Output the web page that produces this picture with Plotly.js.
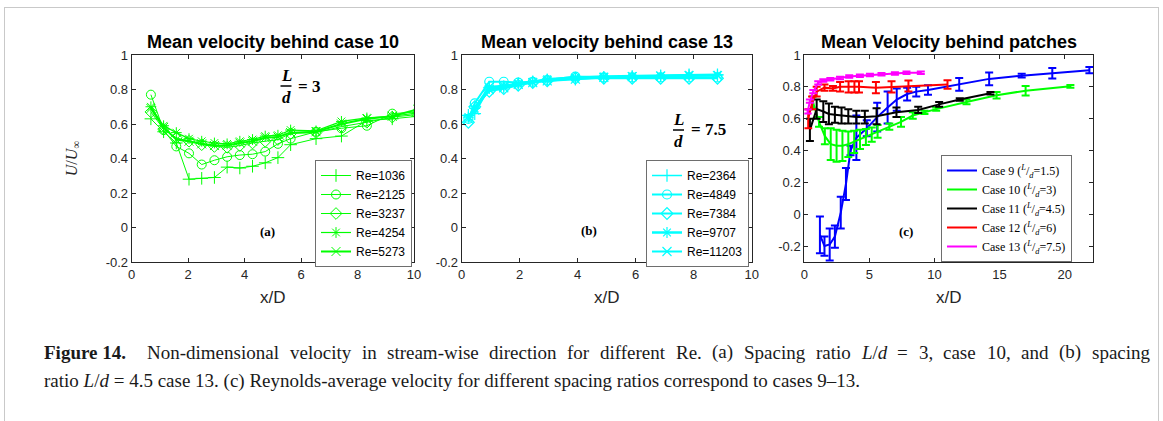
<!DOCTYPE html>
<html>
<head>
<meta charset="utf-8">
<script src="https://cdn.plot.ly/plotly-3.0.1.min.js"></script>
<style>
  html, body { margin: 0; padding: 0; background: #ffffff; }
  #wrap { position: relative; width: 1163px; height: 421px; overflow: hidden; }
  #chart { width: 1163px; height: 421px; }
  #frame { position: absolute; left: 4px; top: 7px; width: 1153px; height: 440px;
           border: 1px solid #c9c9c9; pointer-events: none; }
</style>
</head>
<body>
<div id="wrap"><div id="chart"></div><div id="frame"></div></div>
<script>
// ---------------- data ----------------
// Panel (a): case 10, x/D positions and U/U_inf for several Re
const xA = [0.68, 1.13, 1.58, 2.03, 2.48, 2.93, 3.38, 3.83, 4.28, 4.73, 5.18, 5.63, 6.53, 7.43, 8.33, 9.23, 10.13];
const reA = ['Re=1036', 'Re=2125', 'Re=3237', 'Re=4254', 'Re=5273'];
const uA1036 = [0.63, 0.555, 0.49, 0.28, 0.285, 0.29, 0.35, 0.345, 0.355, 0.375, 0.405, 0.48, 0.515, 0.53, 0.62, 0.63, 0.645];
const uA2125 = [0.77, 0.565, 0.47, 0.43, 0.365, 0.39, 0.41, 0.42, 0.425, 0.44, 0.485, 0.515, 0.555, 0.575, 0.59, 0.66, 0.67];
const uA3237 = [0.67, 0.57, 0.52, 0.50, 0.48, 0.47, 0.465, 0.475, 0.49, 0.50, 0.51, 0.545, 0.55, 0.585, 0.61, 0.64, 0.655];
const uA4254 = [0.70, 0.59, 0.55, 0.515, 0.50, 0.49, 0.485, 0.50, 0.51, 0.53, 0.535, 0.565, 0.56, 0.615, 0.635, 0.645, 0.665];
const uA5273 = [0.69, 0.58, 0.51, 0.50, 0.485, 0.475, 0.475, 0.49, 0.50, 0.52, 0.525, 0.55, 0.555, 0.60, 0.63, 0.645, 0.685];

// Panel (b): case 13
const xB = [0.23, 0.45, 0.95, 1.45, 1.95, 2.45, 2.95, 3.92, 4.90, 5.88, 6.86, 7.84, 8.82];
const reB = ['Re=2364', 'Re=4849', 'Re=7384', 'Re=9707', 'Re=11203'];
const uB2364 = [0.65, 0.66, 0.81, 0.815, 0.835, 0.845, 0.855, 0.86, 0.87, 0.875, 0.88, 0.885, 0.885];
const uB4849 = [0.63, 0.72, 0.845, 0.845, 0.84, 0.845, 0.855, 0.875, 0.87, 0.87, 0.87, 0.87, 0.87];
const uB7384 = [0.61, 0.70, 0.79, 0.805, 0.825, 0.84, 0.85, 0.865, 0.865, 0.865, 0.865, 0.865, 0.865];
const uB9707 = [0.64, 0.69, 0.815, 0.82, 0.835, 0.845, 0.86, 0.87, 0.875, 0.878, 0.88, 0.885, 0.885];
const uB11203 = [0.63, 0.68, 0.80, 0.81, 0.83, 0.84, 0.85, 0.86, 0.87, 0.875, 0.878, 0.88, 0.88];

// Panel (c): Reynolds-averaged velocity behind patches, with error bars
const caseNames = ['Case 9 (<sup><i>L</i></sup>/<sub><i>d</i></sub>=1.5)', 'Case 10 (<sup><i>L</i></sup>/<sub><i>d</i></sub>=3)',
                   'Case 11 (<sup><i>L</i></sup>/<sub><i>d</i></sub>=4.5)', 'Case 12 (<sup><i>L</i></sup>/<sub><i>d</i></sub>=6)',
                   'Case 13 (<sup><i>L</i></sup>/<sub><i>d</i></sub>=7.5)'];
const xC9 = [1.2, 1.55, 1.95, 2.35, 2.8, 3.2, 3.55, 4.0, 4.8, 5.6, 6.4, 7.1, 7.9, 8.6, 9.5, 11.9, 14.2, 16.7, 19.05, 21.9];
const uC9 = [-0.13, -0.2, -0.19, -0.14, 0.01, 0.19, 0.40, 0.48, 0.54, 0.61, 0.67, 0.72, 0.755, 0.77, 0.78, 0.815, 0.85, 0.87, 0.885, 0.905];
const eC9 = [0.115, 0.06, 0.10, 0.07, 0.10, 0.10, 0.03, 0.14, 0.05, 0.09, 0.10, 0.07, 0.04, 0.03, 0.03, 0.04, 0.04, 0.012, 0.033, 0.02];
const xC10 = [0.68, 1.13, 1.58, 2.03, 2.48, 2.93, 3.38, 3.83, 4.28, 4.73, 5.18, 5.63, 6.53, 7.43, 8.33, 9.23, 10.13, 12.46, 14.77, 17.0, 20.44];
const uC10 = [0.70, 0.58, 0.49, 0.44, 0.43, 0.43, 0.44, 0.455, 0.47, 0.485, 0.50, 0.52, 0.55, 0.58, 0.62, 0.64, 0.66, 0.705, 0.747, 0.776, 0.803];
const eC10 = [0.04, 0.03, 0.05, 0.10, 0.10, 0.095, 0.08, 0.07, 0.06, 0.05, 0.045, 0.04, 0.02, 0.03, 0.02, 0.01, 0.01, 0.015, 0.02, 0.03, 0.008];
const xC11 = [0.43, 0.95, 1.46, 1.89, 2.35, 2.86, 3.38, 4.0, 4.65, 5.55, 7.08, 8.75, 10.36, 11.94, 14.3];
const uC11 = [0.53, 0.66, 0.645, 0.63, 0.625, 0.62, 0.615, 0.61, 0.61, 0.615, 0.64, 0.655, 0.69, 0.72, 0.76];
const eC11 = [0.07, 0.06, 0.065, 0.065, 0.05, 0.05, 0.045, 0.04, 0.04, 0.05, 0.03, 0.02, 0.015, 0.008, 0.008];
const xC12 = [0.3, 0.6, 0.95, 1.55, 2.2, 2.75, 3.4, 3.85, 4.2, 5.5, 6.7, 8.0, 11.0];
const uC12 = [0.60, 0.70, 0.77, 0.795, 0.79, 0.80, 0.80, 0.80, 0.80, 0.795, 0.80, 0.805, 0.815];
const eC12 = [0.06, 0.04, 0.03, 0.02, 0.015, 0.03, 0.035, 0.035, 0.035, 0.035, 0.035, 0.035, 0.027];
const xC13 = [0.26, 0.43, 0.69, 1.07, 1.46, 2.0, 2.74, 3.45, 4.27, 5.04, 5.93, 6.96, 7.85, 8.95];
const uC13 = [0.645, 0.71, 0.77, 0.825, 0.84, 0.848, 0.856, 0.865, 0.87, 0.875, 0.879, 0.884, 0.888, 0.888];
const eC13 = [0.012, 0.01, 0.01, 0.01, 0.008, 0.008, 0.008, 0.008, 0.008, 0.008, 0.008, 0.008, 0.008, 0.008];

// tick labels
const yTickVals = [-0.2, 0, 0.2, 0.4, 0.6, 0.8, 1];
const yTickText = ['-0.2', '0', '0.2', '0.4', '0.6', '0.8', '1'];
const xTickValsAB = [0, 2, 4, 6, 8, 10];
const xTickValsC = [0, 5, 10, 15, 20];

// caption text (line 1 is justified word by word, line 2 is the natural last line)
const captionLine1 = [
  [{s: 'Figure 14.', b: true}],
  [{s: 'Non-dimensional'}], [{s: 'velocity'}], [{s: 'in'}], [{s: 'stream-wise'}], [{s: 'direction'}],
  [{s: 'for'}], [{s: 'different'}], [{s: 'Re.'}], [{s: '(a)'}], [{s: 'Spacing'}], [{s: 'ratio'}],
  [{s: 'L', i: true}, {s: '/'}, {s: 'd', i: true}], [{s: '='}], [{s: '3,'}], [{s: 'case'}], [{s: '10,'}],
  [{s: 'and'}], [{s: '(b)'}], [{s: 'spacing'}]
];
const captionLine2 = 'ratio <i>L</i>/<i>d</i> = 4.5 case 13. (c) Reynolds-average velocity for different spacing ratios correspond to cases 9–13.';

// ---------------- styling ----------------
const W = 1163, H = 421;
const px = v => v / W;
const py = v => 1 - v / H;
const GREEN = '#00ff00', CYAN = '#00ffff';
const symA = ['cross-thin-open', 'circle-open', 'diamond-open', 'asterisk-open', 'x-thin-open'];
const lwA = [1, 1, 1, 1.2, 2];
const lwB = [1.5, 2, 2, 2.5, 2];
const sans = 'Liberation Sans, Arial, sans-serif';
const serif = 'Liberation Serif, Times New Roman, serif';
const CAP_SIZE = 19;

const traces = [];
[uA1036, uA2125, uA3237, uA4254, uA5273].forEach((u, i) => {
  traces.push({x: xA, y: u, name: reA[i], type: 'scatter', mode: 'lines+markers',
    xaxis: 'x', yaxis: 'y', legend: 'legend',
    line: {color: GREEN, width: lwA[i]},
    marker: {symbol: symA[i], size: 9, color: GREEN, line: {color: GREEN, width: 1}}});
});
[uB2364, uB4849, uB7384, uB9707, uB11203].forEach((u, i) => {
  traces.push({x: xB, y: u, name: reB[i], type: 'scatter', mode: 'lines+markers',
    xaxis: 'x2', yaxis: 'y2', legend: 'legend2',
    line: {color: CYAN, width: lwB[i]},
    marker: {symbol: symA[i], size: 9, color: CYAN, line: {color: CYAN, width: 1.2}}});
});
const cX = [xC9, xC10, xC11, xC12, xC13];
const cU = [uC9, uC10, uC11, uC12, uC13];
const cE = [eC9, eC10, eC11, eC12, eC13];
const cCol = ['#0000ff', '#00ff00', '#000000', '#ff0000', '#ff00ff'];
cX.forEach((xx, i) => {
  traces.push({x: xx, y: cU[i], name: caseNames[i], type: 'scatter', mode: 'lines',
    xaxis: 'x3', yaxis: 'y3', legend: 'legend3',
    line: {color: cCol[i], width: 2},
    error_y: {type: 'data', array: cE[i], visible: true, color: cCol[i], thickness: 2, width: 4}});
});

function xax(domain, range, tickvals, anchor) {
  return {domain: domain, range: range, anchor: anchor, tickvals: tickvals,
    ticks: 'inside', ticklen: 4, tickcolor: '#262626', mirror: 'ticks', showline: true,
    linecolor: '#262626', linewidth: 1, showgrid: false, zeroline: false,
    tickfont: {family: sans, size: 13, color: '#262626'},
    title: {text: 'x/D', font: {family: sans, size: 17, color: '#262626'}, standoff: 10}};
}
function yax(domain, range, anchor) {
  return {domain: domain, range: range, anchor: anchor, tickvals: yTickVals, ticktext: yTickText,
    ticks: 'inside', ticklen: 4, tickcolor: '#262626', mirror: 'ticks', showline: true,
    linecolor: '#262626', linewidth: 1, showgrid: false, zeroline: false,
    tickfont: {family: sans, size: 13, color: '#262626'}};
}
const yDom = [py(262), py(55)];
const dA = [px(131.7), px(414)], dB = [px(461.7), px(751.7)], dC = [px(804.3), px(1093.3)];

// ---- caption justification (positions only) ----
const cv = document.createElement('canvas').getContext('2d');
function partWidth(p) {
  cv.font = (p.i ? 'italic ' : '') + (p.b ? 'bold ' : '') + CAP_SIZE + 'px "Liberation Serif"';
  return cv.measureText(p.s).width;
}
function wordHtml(w) {
  return w.map(p => {
    let t = p.s;
    if (p.i) t = '<i>' + t + '</i>';
    if (p.b) t = '<b>' + t + '</b>';
    return t;
  }).join('');
}
const capLeft = 42, capRight = 1148;
const wWidths = captionLine1.map(w => w.reduce((s, p) => s + partWidth(p), 0));
const gapWeights = captionLine1.slice(1).map((w, k) => (k === 0 ? 2 : 1));
const totalW = wWidths.reduce((a, b) => a + b, 0);
const unitGap = (capRight - capLeft - totalW) / gapWeights.reduce((a, b) => a + b, 0);
const captionAnns = [];
let cx = capLeft;
captionLine1.forEach((w, k) => {
  captionAnns.push({text: wordHtml(w), x: px(cx), y: py(352)});
  cx += wWidths[k] + (k < gapWeights.length ? gapWeights[k] * unitGap : 0);
});
captionAnns.push({text: captionLine2, x: px(capLeft), y: py(381)});

const layout = {
  width: W, height: H, margin: {l: 0, r: 0, t: 0, b: 0},
  paper_bgcolor: '#ffffff', plot_bgcolor: '#ffffff',
  xaxis: xax(dA, [0, 10], xTickValsAB, 'y'),
  yaxis: Object.assign(yax(yDom, [-0.2, 1], 'x'),
    {title: {text: '<i>U</i>/<i>U</i><sub>∞</sub>', font: {family: serif, size: 16, color: '#262626'}, standoff: 24}}),
  xaxis2: xax(dB, [0, 10], xTickValsAB, 'y2'),
  yaxis2: yax(yDom, [-0.2, 1], 'x2'),
  xaxis3: xax(dC, [0, 22.2], xTickValsC, 'y3'),
  yaxis3: yax(yDom, [-0.3, 1], 'x3'),
  legend: {x: px(315), y: py(160), xanchor: 'left', yanchor: 'top', bgcolor: '#ffffff',
    bordercolor: '#6e6e6e', borderwidth: 1, font: {family: sans, size: 12, color: '#000'}, tracegroupgap: 0},
  legend2: {x: px(646), y: py(160), xanchor: 'left', yanchor: 'top', bgcolor: '#ffffff',
    bordercolor: '#6e6e6e', borderwidth: 1, font: {family: sans, size: 12, color: '#000'}, tracegroupgap: 0},
  legend3: {x: px(941), y: py(155), xanchor: 'left', yanchor: 'top', bgcolor: '#ffffff',
    bordercolor: '#6e6e6e', borderwidth: 1, font: {family: serif, size: 12, color: '#000'}, tracegroupgap: 0},
  shapes: [
    {type: 'line', xref: 'paper', yref: 'paper', x0: px(280.5), x1: px(291.5), y0: py(86), y1: py(86), line: {color: '#000', width: 1.5}},
    {type: 'line', xref: 'paper', yref: 'paper', x0: px(673), x1: px(684), y0: py(130), y1: py(130), line: {color: '#000', width: 1.5}}
  ],
  annotations: [
    {text: '<b>Mean velocity behind case 10</b>', x: (dA[0] + dA[1]) / 2, y: py(42)},
    {text: '<b>Mean velocity behind case 13</b>', x: (dB[0] + dB[1]) / 2, y: py(42)},
    {text: '<b>Mean Velocity behind patches</b>', x: (dC[0] + dC[1]) / 2, y: py(42)}
  ].map(a => Object.assign(a, {xref: 'paper', yref: 'paper', showarrow: false, xanchor: 'center', yanchor: 'middle',
      font: {family: sans, size: 18, color: '#000'}})).concat([
    {text: '<b><i>L</i></b>', x: px(286), y: py(75)},
    {text: '<b><i>d</i></b>', x: px(286), y: py(97)},
    {text: '<b>= 3</b>', x: px(309), y: py(86)},
    {text: '<b><i>L</i></b>', x: px(678.5), y: py(119)},
    {text: '<b><i>d</i></b>', x: px(678.5), y: py(141)},
    {text: '<b>= 7.5</b>', x: px(708), y: py(130)}
  ].map(a => Object.assign(a, {xref: 'paper', yref: 'paper', showarrow: false, xanchor: 'center', yanchor: 'middle',
      font: {family: serif, size: 17, color: '#000'}}))).concat([
    {text: '<b>(a)</b>', x: px(267), y: py(232)},
    {text: '<b>(b)</b>', x: px(589), y: py(230)},
    {text: '<b>(c)</b>', x: px(906), y: py(232)}
  ].map(a => Object.assign(a, {xref: 'paper', yref: 'paper', showarrow: false, xanchor: 'center', yanchor: 'middle',
      font: {family: serif, size: 13, color: '#000'}}))).concat(
    captionAnns.map(a => Object.assign(a, {xref: 'paper', yref: 'paper', showarrow: false, xanchor: 'left', yanchor: 'middle',
      font: {family: serif, size: CAP_SIZE, color: '#1a1a1a'}})))
};

Plotly.newPlot('chart', traces, layout, {staticPlot: true, displayModeBar: false});
</script>
</body>
</html>
